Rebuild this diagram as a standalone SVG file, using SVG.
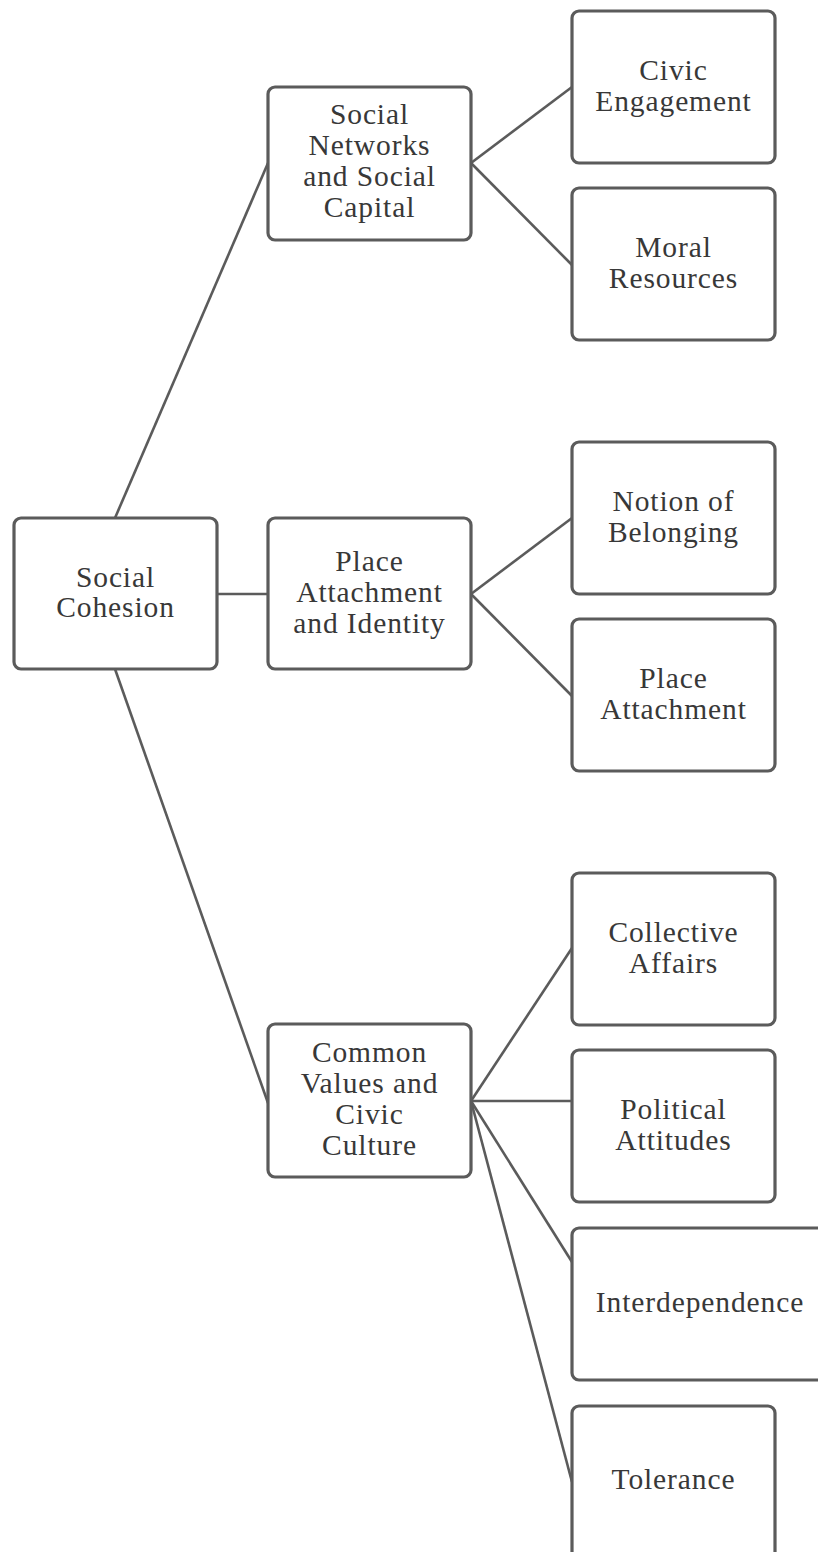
<svg xmlns="http://www.w3.org/2000/svg" width="818" height="1552" viewBox="0 0 818 1552">
<style>
.box{fill:#fff;stroke:#5b5b5b;stroke-width:3.2}
.edge{stroke:#5b5b5b;stroke-width:2.6;fill:none}
text{font-family:"Liberation Serif","DejaVu Serif",serif;font-size:29.5px;letter-spacing:0.9px;fill:#383838;text-anchor:middle}
</style>
<rect width="818" height="1552" fill="#fff"/>
<g id="connectors">
<line class="edge" x1="115" y1="518" x2="268" y2="163"/>
<line class="edge" x1="217" y1="594" x2="268" y2="594"/>
<line class="edge" x1="115" y1="669" x2="268" y2="1103"/>
<line class="edge" x1="471" y1="163" x2="572" y2="87"/>
<line class="edge" x1="471" y1="163" x2="572" y2="265"/>
<line class="edge" x1="471" y1="594" x2="572" y2="518"/>
<line class="edge" x1="471" y1="594" x2="572" y2="696"/>
<line class="edge" x1="471" y1="1101" x2="572" y2="948"/>
<line class="edge" x1="471" y1="1101" x2="572" y2="1101"/>
<line class="edge" x1="471" y1="1101" x2="572" y2="1262"/>
<line class="edge" x1="471" y1="1101" x2="572" y2="1482"/>
</g>
<g id="social-cohesion"><rect class="box" x="14" y="518" width="203" height="151" rx="7"/><text x="115.5"><tspan x="115.5" y="587">Social</tspan><tspan x="115.5" y="617">Cohesion</tspan></text></g>
<g id="social-networks"><rect class="box" x="268" y="87" width="203" height="153" rx="7"/><text><tspan x="369.5" y="124">Social</tspan><tspan x="369.5" y="155">Networks</tspan><tspan x="369.5" y="186">and Social</tspan><tspan x="369.5" y="217">Capital</tspan></text></g>
<g id="place-attachment-identity"><rect class="box" x="268" y="518" width="203" height="151" rx="7"/><text><tspan x="369.5" y="571">Place</tspan><tspan x="369.5" y="602">Attachment</tspan><tspan x="369.5" y="633">and Identity</tspan></text></g>
<g id="common-values"><rect class="box" x="268" y="1024" width="203" height="153" rx="7"/><text><tspan x="369.5" y="1062">Common</tspan><tspan x="369.5" y="1093">Values and</tspan><tspan x="369.5" y="1124">Civic</tspan><tspan x="369.5" y="1155">Culture</tspan></text></g>
<g id="civic-engagement"><rect class="box" x="572" y="11" width="203" height="152" rx="7"/><text><tspan x="673.5" y="80">Civic</tspan><tspan x="673.5" y="111">Engagement</tspan></text></g>
<g id="moral-resources"><rect class="box" x="572" y="188" width="203" height="152" rx="7"/><text><tspan x="673.5" y="257">Moral</tspan><tspan x="673.5" y="288">Resources</tspan></text></g>
<g id="notion-of-belonging"><rect class="box" x="572" y="442" width="203" height="152" rx="7"/><text><tspan x="673.5" y="511">Notion of</tspan><tspan x="673.5" y="542">Belonging</tspan></text></g>
<g id="place-attachment"><rect class="box" x="572" y="619" width="203" height="152" rx="7"/><text><tspan x="673.5" y="688">Place</tspan><tspan x="673.5" y="719">Attachment</tspan></text></g>
<g id="collective-affairs"><rect class="box" x="572" y="873" width="203" height="152" rx="7"/><text><tspan x="673.5" y="942">Collective</tspan><tspan x="673.5" y="973">Affairs</tspan></text></g>
<g id="political-attitudes"><rect class="box" x="572" y="1050" width="203" height="152" rx="7"/><text><tspan x="673.5" y="1119">Political</tspan><tspan x="673.5" y="1150">Attitudes</tspan></text></g>
<g id="interdependence"><rect class="box" x="572" y="1228" width="258" height="152" rx="7"/><text x="700" y="1312">Interdependence</text></g>
<g id="tolerance"><rect class="box" x="572" y="1406" width="203" height="160" rx="7"/><text x="673.5" y="1489">Tolerance</text></g>
</svg>
